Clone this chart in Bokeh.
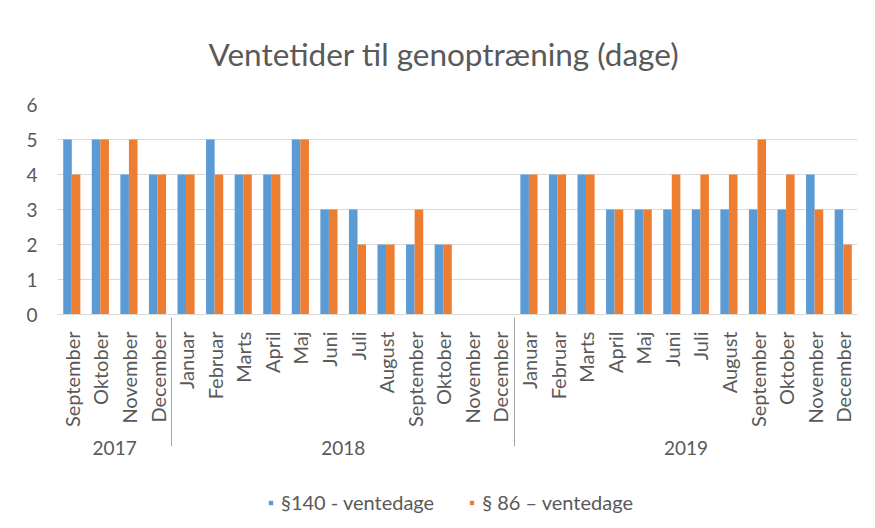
import math
from bokeh.plotting import figure
from bokeh.models import FactorRange, Range1d, Legend, LegendItem, ColumnDataSource
from bokeh.transform import dodge
from bokeh.layouts import column
from bokeh.embed import file_html
from bokeh.resources import INLINE

# ---- data ----
years = ["2017"] * 4 + ["2018"] * 12 + ["2019"] * 12
months_2017 = ["September", "Oktober", "November", "December"]
months_full = ["Januar", "Februar", "Marts", "April", "Maj", "Juni", "Juli",
               "August", "September", "Oktober", "November", "December"]
months = months_2017 + months_full + months_full
s140 = [5, 5, 4, 4,
        4, 5, 4, 4, 5, 3, 3, 2, 2, 2, None, None,
        4, 4, 4, 3, 3, 3, 3, 3, 3, 3, 4, 3]
s86 = [4, 5, 5, 4,
       4, 4, 4, 4, 5, 3, 2, 2, 3, 2, None, None,
       4, 4, 4, 3, 3, 4, 4, 4, 5, 4, 3, 2]
series_names = ["§140 - ventedage", "§ 86 – ventedage"]
title_text = "Ventetider til genoptræning (dage)"

BLUE = "#5B9BD5"
ORANGE = "#ED7D31"
GREY = "#595959"
FONT = "Lato"

factors = list(zip(years, months))
src = ColumnDataSource(dict(
    x=factors,
    a=[float("nan") if v is None else v for v in s140],
    b=[float("nan") if v is None else v for v in s86],
))

p = figure(
    x_range=FactorRange(*factors, range_padding=0, group_padding=0, factor_padding=0),
    y_range=Range1d(0, 6),
    frame_width=800, frame_height=210,
    output_backend="svg", toolbar_location=None,
    min_border_left=57, min_border_right=16, min_border_top=99, min_border_bottom=170,
)

p.vbar(x=dodge("x", -0.15, range=p.x_range), top="a", width=0.3, source=src,
       fill_color=BLUE, line_color=None)
p.vbar(x=dodge("x", 0.15, range=p.x_range), top="b", width=0.3, source=src,
       fill_color=ORANGE, line_color=None)

# title
p.title.text = title_text
p.title.text_font = FONT
p.title.text_font_size = "31.5px"
p.title.text_font_style = "normal"
p.title.text_color = GREY
p.title.align = "left"
p.title.offset = 151
p.title.standoff = 64

# grid
p.xgrid.grid_line_color = None
p.ygrid.grid_line_color = "#D9D9D9"
p.outline_line_color = None

# y axis
p.yaxis.ticker = [0, 1, 2, 3, 4, 5, 6]
p.yaxis.axis_line_color = None
p.yaxis.major_tick_line_color = None
p.yaxis.minor_tick_line_color = None
p.yaxis.major_label_text_font = FONT
p.yaxis.major_label_text_font_size = "19px"
p.yaxis.major_label_text_color = GREY
p.yaxis.major_label_standoff = 14

# x axis
xa = p.xaxis[0]
xa.axis_line_color = "#D9D9D9"
xa.major_tick_line_color = None
xa.minor_tick_line_color = None
xa.major_label_orientation = math.pi / 2
xa.major_label_text_font = FONT
xa.major_label_text_font_size = "20px"
xa.major_label_text_color = GREY
xa.major_label_standoff = 11
xa.group_text_font = FONT
xa.group_text_font_size = "19px"
xa.group_text_color = GREY
xa.group_text_font_style = "normal"
xa.separator_line_color = "#A6A6A6"
xa.separator_line_width = 1

# ---- legend strip (separate small figure under the chart) ----
lg = figure(
    width=873, height=46, x_range=Range1d(0, 1), y_range=Range1d(0, 1),
    x_axis_type=None, y_axis_type=None,
    output_backend="svg", toolbar_location=None,
    min_border_left=0, min_border_right=0, min_border_top=0, min_border_bottom=0,
)
lg.xgrid.grid_line_color = None
lg.ygrid.grid_line_color = None
lg.outline_line_color = None
# square swatch renderers kept far outside the visible range; they only feed the legend
k1 = lg.scatter(x=[0.5], y=[5], marker="square", size=11, fill_color=BLUE, line_color=None)
k2 = lg.scatter(x=[0.5], y=[5], marker="square", size=11, fill_color=ORANGE, line_color=None)

legend = Legend(
    items=[LegendItem(label=series_names[0], renderers=[k1]),
           LegendItem(label=series_names[1], renderers=[k2])],
    orientation="horizontal", location=(208, 16),
    label_text_font=FONT, label_text_font_size="20px", label_text_color=GREY,
    glyph_width=11, glyph_height=11, spacing=32, label_standoff=5,
    border_line_color=None, background_fill_alpha=0,
    margin=0, padding=0,
)
lg.add_layout(legend, "center")

layout = column(p, lg, spacing=0)

open("out.html", "w").write(file_html(layout, INLINE))
